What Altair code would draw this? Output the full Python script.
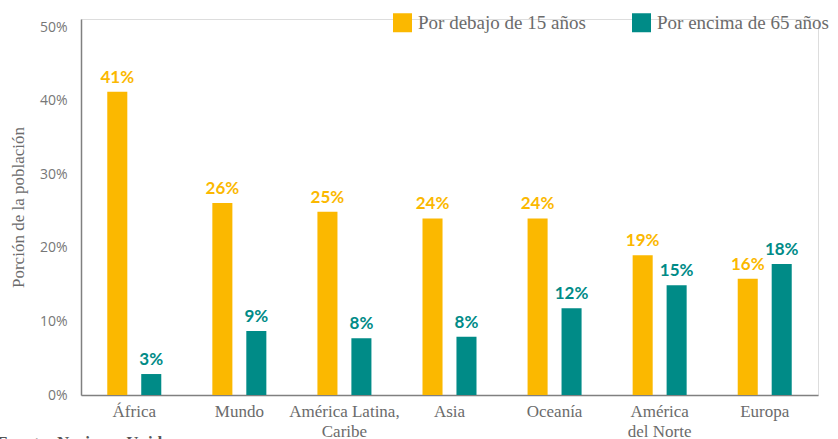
import altair as alt
import pandas as pd

regiones = ["África", "Mundo", "América Latina,|Caribe", "Asia", "Oceanía", "América|del Norte", "Europa"]
menores_15 = [0.412, 0.261, 0.249, 0.240, 0.240, 0.190, 0.158]
mayores_65 = [0.0285, 0.087, 0.077, 0.079, 0.118, 0.149, 0.178]
series = ["Por debajo de 15 años", "Por encima de 65 años"]
colores = ["#FBB800", "#008B87"]
ticks_y = [0, 0.1, 0.2, 0.3, 0.4, 0.5]
fuente = "Fuente: Naciones Unidas"

rows = []
for r, a, b in zip(regiones, menores_15, mayores_65):
    rows.append({"region": r, "serie": series[0], "valor": a})
    rows.append({"region": r, "serie": series[1], "valor": b})
df = pd.DataFrame(rows)

grey = "#6b6b6b"
serif = "Liberation Serif"

base = alt.Chart(df).encode(
    x=alt.X(
        "region:N",
        sort=regiones,
        scale=alt.Scale(paddingInner=0.486, paddingOuter=0.25),
        axis=alt.Axis(
            title=None,
            labelExpr="split(datum.label, '|')",
            labelAngle=0,
            labelFont=serif,
            labelFontSize=17,
            labelColor=grey,
            labelBaseline="top",
            labelPadding=8,
            labelLineHeight=20,
            domainColor="#808080",
            domainWidth=1.5,
            ticks=False,
        ),
    ),
    xOffset=alt.XOffset("serie:N", sort=series, scale=alt.Scale(paddingInner=0.41, paddingOuter=0)),
    y=alt.Y(
        "valor:Q",
        scale=alt.Scale(domain=[0, 0.511], nice=False),
        axis=alt.Axis(
            values=ticks_y,
            format=".0%",
            title="Porción de la población",
            titleFont=serif,
            titleFontSize=17,
            titleFontWeight="normal",
            titleColor=grey,
            titlePadding=12,
            grid=False,
            ticks=False,
            labelPadding=14,
            labelFont="Open Sans",
            labelFontSize=14,
            labelColor="#777777",
            domainColor="#808080",
            domainWidth=1.5,
        ),
    ),
    color=alt.Color(
        "serie:N",
        sort=series,
        scale=alt.Scale(domain=series, range=colores),
        legend=alt.Legend(
            title=None,
            orient="none",
            legendX=312,
            legendY=-6,
            direction="horizontal",
            symbolType="square",
            symbolSize=361,
            symbolStrokeWidth=0,
            symbolOpacity=1,
            labelFont=serif,
            labelFontSize=19,
            labelColor=grey,
            labelOffset=6,
            labelLimit=0,
            columnPadding=46,
        ),
    ),
)

bars = base.mark_bar(opacity=1)
labels = base.mark_text(
    font="Lato", fontWeight="bold", fontSize=17, dy=-9, baseline="alphabetic"
).encode(text=alt.Text("valor:Q", format=".0%"))

nota = alt.Chart(pd.DataFrame({"t": [fuente]})).mark_text(
    font=serif, fontWeight="bold", fontSize=17, align="left", baseline="alphabetic", color="#555555"
).encode(text="t:N", x=alt.value(-84), y=alt.value(429))

chart = (
    alt.layer(bars, labels, nota)
    .properties(
        width=737,
        height=376,
        padding={"left": 81, "top": 19, "right": 20, "bottom": 44},
        autosize=alt.AutoSizeParams(type="none"),
    )
    .configure_view(stroke=None)
    .configure(background="white")
)

chart.save("out.html", embed_options={"renderer": "svg", "actions": False})
